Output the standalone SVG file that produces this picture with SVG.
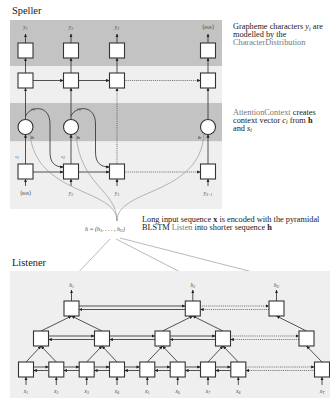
<svg xmlns="http://www.w3.org/2000/svg" width="330" height="398" viewBox="0 0 330 398">
<defs>
<marker id="ah" viewBox="0 0 6 6" refX="5.6" refY="3" markerWidth="3.6" markerHeight="3.6" orient="auto" markerUnits="userSpaceOnUse">
<path d="M0,0.3 L6,3 L0,5.7 z" fill="#222"/>
</marker>
<style>
.bd{fill:#c3c3c3}
.bl{fill:#efefef}
.box{fill:#fff;stroke:#333;stroke-width:1.1}
.cir{fill:#fff;stroke:#333;stroke-width:1.1}
.ln{stroke:#2a2a2a;stroke-width:0.8;fill:none}
.ar{marker-end:url(#ah)}
.dot{stroke:#555;stroke-width:0.8;stroke-dasharray:1 0.9;fill:none}
.gr{stroke:#8a8a8a;stroke-width:0.6;fill:none}
.t{font-family:"Liberation Serif","Times New Roman",serif;fill:#1a1a1a}
.ttl{font-size:10.4px}
.lab{font-size:5.5px;font-style:italic;text-anchor:middle;fill:#444}
.sm{font-size:5px;font-style:italic;fill:#444}
.sub{font-size:3.8px}
.note{font-size:8.3px}
.nsub{font-size:5.8px}
.g{fill:#777}
</style>
</defs>

<!-- Speller -->
<text class="t ttl" x="12" y="14">Speller</text>
<rect class="bd" x="10" y="20" width="212" height="46"/>
<rect class="bl" x="10" y="66" width="212" height="37"/>
<rect class="bd" x="10" y="103" width="212" height="38.5"/>
<rect class="bl" x="10" y="141.5" width="212" height="67.5"/>

<g id="connectors-speller">
  <!-- outputs -->
  <line class="ln ar" x1="25.5" y1="43" x2="25.5" y2="34"/>
  <line class="ln ar" x1="71" y1="43" x2="71" y2="34"/>
  <line class="ln ar" x1="117" y1="43" x2="117" y2="34"/>
  <line class="ln ar" x1="208" y1="43" x2="208" y2="34"/>
  <!-- decoder state to distribution -->
  <line class="ln ar" x1="25.5" y1="73" x2="25.5" y2="58"/>
  <line class="ln ar" x1="71" y1="73" x2="71" y2="58"/>
  <line class="ln ar" x1="117" y1="73" x2="117" y2="58"/>
  <line class="ln ar" x1="208" y1="73" x2="208" y2="58"/>
  <!-- recurrence, upper row -->
  <line class="ln ar" x1="33" y1="80.5" x2="63.5" y2="80.5"/>
  <line class="ln ar" x1="78.5" y1="80.5" x2="109.5" y2="80.5"/>
  <line class="dot ar" x1="124.5" y1="80.5" x2="200.5" y2="80.5"/>
  <!-- attention to upper row -->
  <line class="ln ar" x1="25.5" y1="119.5" x2="25.5" y2="88"/>
  <line class="ln ar" x1="71" y1="119.5" x2="71" y2="88"/>
  <line class="ln ar" x1="208" y1="119.5" x2="208" y2="88"/>
  <line class="dot ar" x1="117" y1="164" x2="117" y2="88"/>
  <!-- state to attention -->
  <line class="ln ar" x1="25.5" y1="164" x2="25.5" y2="134.5"/>
  <line class="ln ar" x1="71" y1="164" x2="71" y2="134.5"/>
  <line class="ln ar" x1="208" y1="164" x2="208" y2="134.5"/>
  <!-- recurrence, lower row -->
  <line class="ln ar" x1="33" y1="172" x2="63.5" y2="172"/>
  <line class="ln ar" x1="78.5" y1="172" x2="109.5" y2="172"/>
  <line class="dot ar" x1="124.5" y1="172" x2="200.5" y2="172"/>
  <!-- context vectors fed forward -->
  <path class="ln ar" d="M25.5,116 C30,106 50,104 50,124 L50,152 C50,163 55,167 63.5,167"/>
  <path class="ln ar" d="M71,116 C75.5,106 95.5,104 95.5,124 L95.5,152 C95.5,163 100.5,167 109.5,167"/>
  <!-- previous characters in -->
  <line class="ln ar" x1="25.5" y1="186" x2="25.5" y2="179"/>
  <line class="ln ar" x1="71" y1="186" x2="71" y2="179"/>
  <line class="ln ar" x1="117" y1="186" x2="117" y2="179"/>
  <line class="ln ar" x1="208" y1="186" x2="208" y2="179"/>
  <!-- encoder sequence into every attention step -->
  <path class="gr" d="M30,134 C36,196 117,188 117,221"/>
  <path class="gr" d="M76,134 C80,186 117,190 117,221"/>
  <path class="gr" d="M204,134 C200,196 117,188 117,221"/>
  <!-- h to listener outputs -->
  <line class="gr" x1="110" y1="239" x2="72" y2="279"/>
  <line class="gr" x1="116" y1="239" x2="192" y2="278"/>
  <line class="gr" x1="120" y1="238" x2="276" y2="278"/>
</g>

<g id="speller-y1"><rect class="box" x="18" y="43" width="15" height="15"/></g>
<g id="speller-y2"><rect class="box" x="63.5" y="43" width="15" height="15"/></g>
<g id="speller-y3"><rect class="box" x="109.5" y="43" width="15" height="15"/></g>
<g id="speller-yS"><rect class="box" x="200.5" y="43" width="15" height="15"/></g>
<g id="speller-r1"><rect class="box" x="18" y="73" width="15" height="15"/></g>
<g id="speller-r2"><rect class="box" x="63.5" y="73" width="15" height="15"/></g>
<g id="speller-r3"><rect class="box" x="109.5" y="73" width="15" height="15"/></g>
<g id="speller-rS"><rect class="box" x="200.5" y="73" width="15" height="15"/></g>
<g id="attend-1"><circle class="cir" cx="25.5" cy="127" r="7.5"/></g>
<g id="attend-2"><circle class="cir" cx="71" cy="127" r="7.5"/></g>
<g id="attend-S"><circle class="cir" cx="208" cy="127" r="7.5"/></g>
<g id="speller-s1"><rect class="box" x="18" y="164" width="15" height="15"/></g>
<g id="speller-s2"><rect class="box" x="63.5" y="164" width="15" height="15"/></g>
<g id="speller-s3"><rect class="box" x="109.5" y="164" width="15" height="15"/></g>
<g id="speller-sS"><rect class="box" x="200.5" y="164" width="15" height="15"/></g>

<g id="speller-labels" class="t">
  <text class="lab" x="25.5" y="29">y<tspan class="sub" dy="1">1</tspan></text>
  <text class="lab" x="71" y="29">y<tspan class="sub" dy="1">2</tspan></text>
  <text class="lab" x="117" y="29">y<tspan class="sub" dy="1">3</tspan></text>
  <text class="lab" x="208" y="29" style="font-style:normal">⟨eos⟩</text>
  <text class="sm" x="31" y="109.5">c<tspan class="sub" dy="1">1</tspan></text>
  <text class="sm" x="77" y="109.5">c<tspan class="sub" dy="1">2</tspan></text>
  <text class="sm" x="31" y="139" style="font-weight:bold">h</text>
  <text class="sm" x="77" y="139" style="font-weight:bold">h</text>
  <text class="sm" x="198" y="139" style="font-weight:bold">h</text>
  <text class="sm" x="15" y="158">s<tspan class="sub" dy="1">1</tspan></text>
  <text class="sm" x="61" y="158">s<tspan class="sub" dy="1">2</tspan></text>
  <text class="lab" x="25.5" y="194.5" style="font-style:normal">⟨sos⟩</text>
  <text class="lab" x="71" y="194.5">y<tspan class="sub" dy="1">2</tspan></text>
  <text class="lab" x="117" y="194.5">y<tspan class="sub" dy="1">3</tspan></text>
  <text class="lab" x="208" y="194.5">y<tspan class="sub" dy="1">S−1</tspan></text>
  <text class="sm" x="85" y="231" style="font-size:6px">h = (h<tspan style="font-size:4px" dy="1">1</tspan><tspan dy="-1">, . . . , h</tspan><tspan style="font-size:4px" dy="1">U</tspan><tspan dy="-1">)</tspan></text>
</g>

<g id="notes" class="t note">
  <text x="233" y="29">Grapheme characters <tspan font-style="italic">y<tspan class="nsub" dy="1.5">i</tspan></tspan><tspan dy="-1.5"> are</tspan></text>
  <text x="233" y="36.8">modelled by the</text>
  <text x="233" y="44.6" class="g">CharacterDistribution</text>
  <text x="233" y="114.5"><tspan class="g">AttentionContext</tspan> creates</text>
  <text x="233" y="122.5">context vector <tspan font-style="italic">c<tspan class="nsub" dy="1.5">i</tspan></tspan><tspan dy="-1.5"> from </tspan><tspan font-weight="bold">h</tspan></text>
  <text x="233" y="130.5">and <tspan font-style="italic">s<tspan class="nsub" dy="1.5">i</tspan></tspan></text>
  <text x="142" y="221.7">Long input sequence <tspan font-weight="bold">x</tspan> is encoded with the pyramidal</text>
  <text x="142" y="230.2">BLSTM <tspan class="g">Listen</tspan> into shorter sequence <tspan font-weight="bold">h</tspan></text>
</g>

<!-- Listener -->
<text class="t ttl" x="12" y="266">Listener</text>
<rect class="bl" x="10" y="271" width="320" height="127"/>

<g id="connectors-listener">
  <!-- outputs -->
  <line class="ln ar" x1="71.5" y1="301" x2="71.5" y2="290"/>
  <line class="ln ar" x1="192.8" y1="301" x2="192.8" y2="290"/>
  <line class="ln ar" x1="276.5" y1="301" x2="276.5" y2="290"/>
  <!-- top layer bidirectional -->
  <line class="ln ar" x1="79" y1="306" x2="185.3" y2="306"/>
  <line class="ln ar" x1="185.3" y1="309.5" x2="79" y2="309.5"/>
  <line class="dot ar" x1="200.3" y1="306" x2="269" y2="306"/>
  <line class="dot ar" x1="269" y1="309.5" x2="200.3" y2="309.5"/>
  <!-- middle to top -->
  <line class="ln ar" x1="41" y1="331" x2="71.5" y2="316"/>
  <line class="ln ar" x1="102" y1="331" x2="71.5" y2="316"/>
  <line class="ln ar" x1="162.5" y1="331" x2="192.8" y2="316"/>
  <line class="ln ar" x1="223" y1="331" x2="192.8" y2="316"/>
  <line class="ln ar" x1="306.5" y1="331" x2="276.5" y2="316"/>
  <!-- middle layer bidirectional -->
  <line class="ln ar" x1="48.5" y1="336" x2="94.5" y2="336"/>
  <line class="ln ar" x1="94.5" y1="339.5" x2="48.5" y2="339.5"/>
  <line class="ln ar" x1="109.5" y1="336" x2="155" y2="336"/>
  <line class="ln ar" x1="155" y1="339.5" x2="109.5" y2="339.5"/>
  <line class="ln ar" x1="170" y1="336" x2="215.5" y2="336"/>
  <line class="ln ar" x1="215.5" y1="339.5" x2="170" y2="339.5"/>
  <line class="dot ar" x1="230.5" y1="336" x2="299" y2="336"/>
  <line class="dot ar" x1="299" y1="339.5" x2="230.5" y2="339.5"/>
  <!-- bottom to middle -->
  <line class="ln ar" x1="26" y1="362" x2="41" y2="346"/>
  <line class="ln ar" x1="56.3" y1="362" x2="41" y2="346"/>
  <line class="ln ar" x1="86.7" y1="362" x2="102" y2="346"/>
  <line class="ln ar" x1="117" y1="362" x2="102" y2="346"/>
  <line class="ln ar" x1="147.3" y1="362" x2="162.5" y2="346"/>
  <line class="ln ar" x1="177.7" y1="362" x2="162.5" y2="346"/>
  <line class="ln ar" x1="208" y1="362" x2="223" y2="346"/>
  <line class="ln ar" x1="238.3" y1="362" x2="223" y2="346"/>
  <line class="ln ar" x1="322" y1="362" x2="306.5" y2="346"/>
  <!-- bottom layer bidirectional -->
  <line class="ln ar" x1="33.5" y1="367" x2="48.8" y2="367"/>
  <line class="ln ar" x1="48.8" y1="370.5" x2="33.5" y2="370.5"/>
  <line class="ln ar" x1="63.8" y1="367" x2="79.2" y2="367"/>
  <line class="ln ar" x1="79.2" y1="370.5" x2="63.8" y2="370.5"/>
  <line class="ln ar" x1="94.2" y1="367" x2="109.5" y2="367"/>
  <line class="ln ar" x1="109.5" y1="370.5" x2="94.2" y2="370.5"/>
  <line class="ln ar" x1="124.5" y1="367" x2="139.8" y2="367"/>
  <line class="ln ar" x1="139.8" y1="370.5" x2="124.5" y2="370.5"/>
  <line class="ln ar" x1="154.8" y1="367" x2="170.2" y2="367"/>
  <line class="ln ar" x1="170.2" y1="370.5" x2="154.8" y2="370.5"/>
  <line class="ln ar" x1="185.2" y1="367" x2="200.5" y2="367"/>
  <line class="ln ar" x1="200.5" y1="370.5" x2="185.2" y2="370.5"/>
  <line class="ln ar" x1="215.5" y1="367" x2="230.8" y2="367"/>
  <line class="ln ar" x1="230.8" y1="370.5" x2="215.5" y2="370.5"/>
  <line class="dot ar" x1="245.8" y1="367" x2="314.5" y2="367"/>
  <line class="dot ar" x1="314.5" y1="370.5" x2="245.8" y2="370.5"/>
  <!-- inputs -->
  <line class="ln ar" x1="26" y1="385" x2="26" y2="377"/>
  <line class="ln ar" x1="56.3" y1="385" x2="56.3" y2="377"/>
  <line class="ln ar" x1="86.7" y1="385" x2="86.7" y2="377"/>
  <line class="ln ar" x1="117" y1="385" x2="117" y2="377"/>
  <line class="ln ar" x1="147.3" y1="385" x2="147.3" y2="377"/>
  <line class="ln ar" x1="177.7" y1="385" x2="177.7" y2="377"/>
  <line class="ln ar" x1="208" y1="385" x2="208" y2="377"/>
  <line class="ln ar" x1="238.3" y1="385" x2="238.3" y2="377"/>
  <line class="ln ar" x1="322" y1="385" x2="322" y2="377"/>
</g>

<g id="listen-h1"><rect class="box" x="64" y="301" width="15" height="15"/></g>
<g id="listen-h2"><rect class="box" x="185.3" y="301" width="15" height="15"/></g>
<g id="listen-hU"><rect class="box" x="269" y="301" width="15" height="15"/></g>
<g id="listen-m1"><rect class="box" x="33.5" y="331" width="15" height="15"/></g>
<g id="listen-m2"><rect class="box" x="94.5" y="331" width="15" height="15"/></g>
<g id="listen-m3"><rect class="box" x="155" y="331" width="15" height="15"/></g>
<g id="listen-m4"><rect class="box" x="215.5" y="331" width="15" height="15"/></g>
<g id="listen-m5"><rect class="box" x="299" y="331" width="15" height="15"/></g>
<g id="listen-x1"><rect class="box" x="18.5" y="362" width="15" height="15"/></g>
<g id="listen-x2"><rect class="box" x="48.8" y="362" width="15" height="15"/></g>
<g id="listen-x3"><rect class="box" x="79.2" y="362" width="15" height="15"/></g>
<g id="listen-x4"><rect class="box" x="109.5" y="362" width="15" height="15"/></g>
<g id="listen-x5"><rect class="box" x="139.8" y="362" width="15" height="15"/></g>
<g id="listen-x6"><rect class="box" x="170.2" y="362" width="15" height="15"/></g>
<g id="listen-x7"><rect class="box" x="200.5" y="362" width="15" height="15"/></g>
<g id="listen-x8"><rect class="box" x="230.8" y="362" width="15" height="15"/></g>
<g id="listen-xT"><rect class="box" x="314.5" y="362" width="15" height="15"/></g>

<g id="listener-labels" class="t">
  <text class="lab" x="71.5" y="287">h<tspan class="sub" dy="1">1</tspan></text>
  <text class="lab" x="192.8" y="287">h<tspan class="sub" dy="1">2</tspan></text>
  <text class="lab" x="276.5" y="287">h<tspan class="sub" dy="1">U</tspan></text>
  <text class="lab" x="26" y="393">x<tspan class="sub" dy="1">1</tspan></text>
  <text class="lab" x="56.3" y="393">x<tspan class="sub" dy="1">2</tspan></text>
  <text class="lab" x="86.7" y="393">x<tspan class="sub" dy="1">3</tspan></text>
  <text class="lab" x="117" y="393">x<tspan class="sub" dy="1">4</tspan></text>
  <text class="lab" x="147.3" y="393">x<tspan class="sub" dy="1">5</tspan></text>
  <text class="lab" x="177.7" y="393">x<tspan class="sub" dy="1">6</tspan></text>
  <text class="lab" x="208" y="393">x<tspan class="sub" dy="1">7</tspan></text>
  <text class="lab" x="238.3" y="393">x<tspan class="sub" dy="1">8</tspan></text>
  <text class="lab" x="322" y="393">x<tspan class="sub" dy="1">T</tspan></text>
</g>
</svg>
